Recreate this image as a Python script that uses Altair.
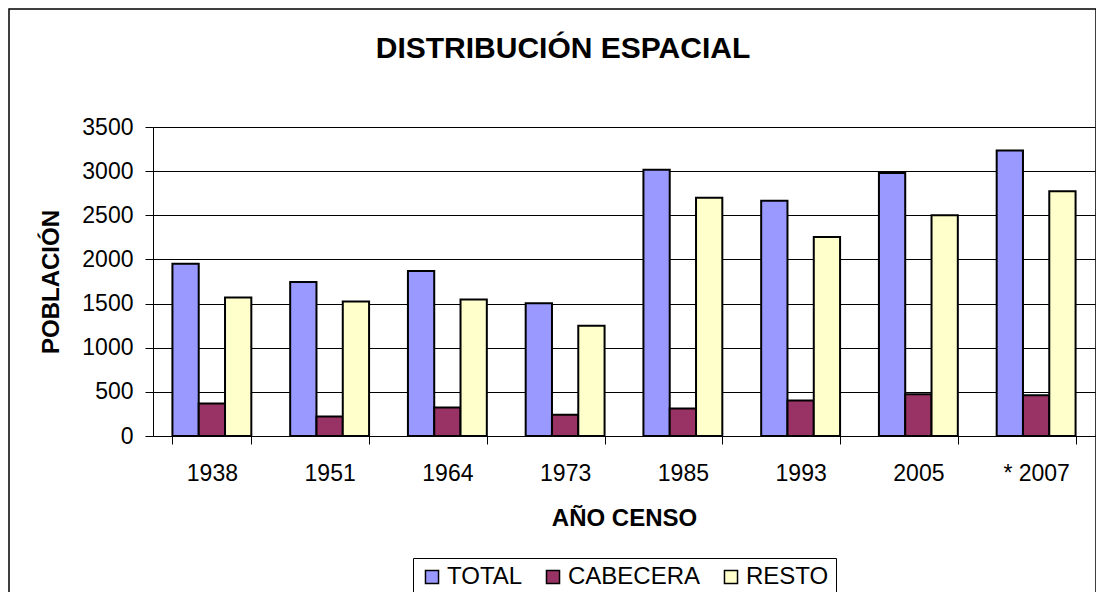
import altair as alt
import pandas as pd

years = ["1938", "1951", "1964", "1973", "1985", "1993", "2005", "* 2007"]
total = [1950, 1745, 1870, 1505, 3015, 2665, 2980, 3235]
cabecera = [367, 220, 322, 242, 311, 402, 473, 462]
resto = [1568, 1523, 1545, 1250, 2700, 2254, 2500, 2773]
series = ["TOTAL", "CABECERA", "RESTO"]
colors = ["#9999FF", "#993366", "#FFFFCC"]
title_text = "DISTRIBUCIÓN ESPACIAL"

rows = []
for i, y in enumerate(years):
    for s, vals in zip(series, [total, cabecera, resto]):
        rows.append({"year": y, "serie": s, "valor": vals[i]})
df = pd.DataFrame(rows)

FONT = "Liberation Sans"
W, H = 942, 309

bars = alt.Chart(df).mark_bar(stroke="black", strokeWidth=2).encode(
    x=alt.X("year:N", sort=years,
            scale=alt.Scale(paddingInner=0.33, paddingOuter=0.165),
            axis=alt.Axis(title="AÑO CENSO", labelAngle=0, tickBand="extent",
                          labelFontSize=23, labelPadding=18, tickSize=8,
                          titleFontSize=24, titleFontWeight="bold", titlePadding=21,
                          domainColor="black", tickColor="black", labelColor="black",
                          titleColor="black", grid=False)),
    xOffset=alt.XOffset("serie:N", sort=series, scale=alt.Scale(paddingInner=0, paddingOuter=0)),
    y=alt.Y("valor:Q", scale=alt.Scale(domain=[0, 3500], nice=False),
            axis=alt.Axis(title="POBLACIÓN", values=list(range(0, 3501, 500)), format="d",
                          labelFontSize=23, tickSize=8, labelPadding=12,
                          titleFontSize=24, titleFontWeight="bold",
                          titleX=-102, titleY=H / 2, titleBaseline="middle", titleAlign="center",
                          titleAngle=270,
                          domainColor="black", tickColor="black", labelColor="black",
                          titleColor="black", gridColor="black", gridWidth=1)),
    color=alt.Color("serie:N", sort=series,
                    scale=alt.Scale(domain=series, range=colors),
                    legend=alt.Legend(title=None, orient="none", direction="horizontal",
                                      legendX=260, legendY=431,
                                      symbolType="square", symbolSize=170,
                                      symbolStrokeColor="black", symbolStrokeWidth=1.5,
                                      labelFontSize=24, labelFont=FONT, labelColor="black",
                                      columnPadding=18, labelOffset=3,
                                      strokeColor="black", padding=7, fillColor="white")),
)

border = alt.Chart(pd.DataFrame({"a": [0]})).mark_rect(
    fill=None, stroke="black", strokeWidth=1.5
).encode(
    x=alt.value(-144), x2=alt.value(943), y=alt.value(-118), y2=alt.value(500)
)

chart = alt.layer(border, bars).properties(
    width=W, height=H,
    title=alt.TitleParams(title_text, fontSize=30, fontWeight="bold", font=FONT,
                          color="black", anchor="middle", dx=-61, offset=-80,
                          baseline="alphabetic"),
    autosize=alt.AutoSizeParams(type="none"),
    padding={"left": 145, "top": 119, "right": 1, "bottom": 156},
).configure_view(
    fill="#C0C0C0", stroke="#808080", strokeWidth=2
).configure_axis(
    labelFont=FONT, titleFont=FONT
).configure(
    background="white"
)

chart.save("out.html", embed_options={"renderer": "svg", "actions": False})
